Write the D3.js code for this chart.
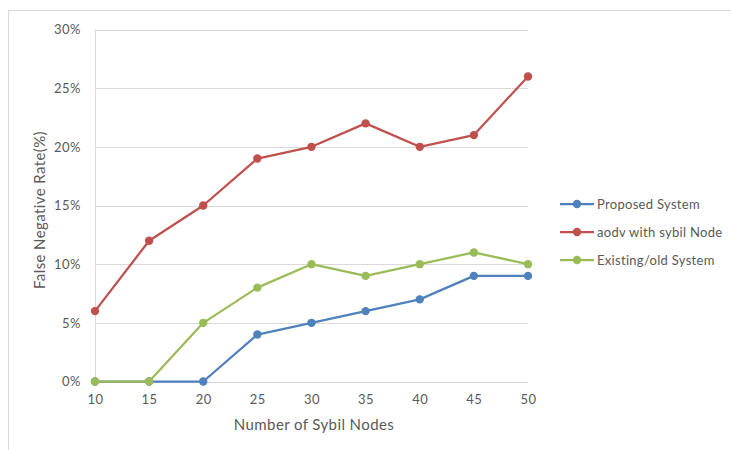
<!DOCTYPE html>
<html>
<head>
<meta charset="utf-8">
<script src="https://cdn.jsdelivr.net/npm/d3@7"></script>
<style>
  html, body { margin: 0; padding: 0; background: #fff; }
  svg { display: block; font-family: Lato, "Open Sans", sans-serif; }
</style>
</head>
<body>
<svg id="chart" width="731" height="450"></svg>
<script>
// Data
const nodes = [10, 15, 20, 25, 30, 35, 40, 45, 50];
const proposed = [0, 0, 0, 4, 5, 6, 7, 9, 9];
const aodvSybil = [6, 12, 15, 19, 20, 22, 20, 21, 26];
const existingOld = [0, 0, 5, 8, 10, 9, 10, 11, 10];
const yTicks = [0, 5, 10, 15, 20, 25, 30];

const series = [
  { name: "Proposed System", values: proposed, color: "#4F81BD" },
  { name: "aodv with sybil Node", values: aodvSybil, color: "#C0504D" },
  { name: "Existing/old System", values: existingOld, color: "#9BBB59" }
];

const svg = d3.select("#chart");
const textColor = "#595959";
const gridColor = "#d9d9d9";

// Outer chart frame
svg.append("rect")
  .attr("x", 8.5).attr("y", 10.5)
  .attr("width", 740).attr("height", 460)
  .attr("fill", "none").attr("stroke", "#d9d9d9").attr("stroke-width", 1);

const plot = { left: 95, right: 528, top: 29.5, bottom: 381.5 };

const x = d3.scalePoint().domain(nodes).range([plot.left, plot.right]);
const y = d3.scaleLinear().domain([0, 30]).range([plot.bottom, plot.top]);

// Horizontal gridlines
svg.append("g")
  .selectAll("line")
  .data(yTicks)
  .join("line")
  .attr("x1", plot.left).attr("x2", plot.right)
  .attr("y1", d => Math.round(y(d)) + 0.5).attr("y2", d => Math.round(y(d)) + 0.5)
  .attr("stroke", gridColor).attr("stroke-width", 1);

// Vertical axis line
svg.append("line")
  .attr("x1", plot.left + 0.5).attr("x2", plot.left + 0.5)
  .attr("y1", plot.top).attr("y2", plot.bottom)
  .attr("stroke", gridColor).attr("stroke-width", 1);

const tickStyle = sel => sel
  .attr("fill", textColor)
  .style("font-size", "13px")
  .style("letter-spacing", "0.5px")
  .style("font-family", "Lato, 'Open Sans', sans-serif");

// Y axis labels
const yAxis = d3.axisLeft(y).tickValues(yTicks).tickSize(0).tickPadding(14)
  .tickFormat(d => d + "%");
const gy = svg.append("g").attr("transform", `translate(${plot.left},0)`).call(yAxis);
gy.select(".domain").remove();
gy.selectAll("text").call(tickStyle);

// X axis labels
const xAxis = d3.axisBottom(x).tickSize(0).tickPadding(13);
const gx = svg.append("g").attr("transform", `translate(0,${plot.bottom})`).call(xAxis);
gx.select(".domain").remove();
gx.selectAll("text").call(tickStyle);

// Axis titles
svg.append("text")
  .attr("x", 314).attr("y", 430)
  .attr("text-anchor", "middle").attr("fill", textColor)
  .style("font-size", "15px").style("letter-spacing", "0.4px")
  .text("Number of Sybil Nodes");

svg.append("text")
  .attr("transform", `translate(45,210) rotate(-90)`)
  .attr("text-anchor", "middle").attr("fill", textColor)
  .style("font-size", "15px").style("letter-spacing", "0.4px")
  .text("False Negative Rate(%)");

// Series lines and markers
const line = d3.line()
  .x((d, i) => x(nodes[i]))
  .y(d => y(d));

series.forEach(s => {
  const g = svg.append("g");
  g.append("path")
    .datum(s.values)
    .attr("d", line)
    .attr("fill", "none")
    .attr("stroke", s.color)
    .attr("stroke-width", 2.25)
    .attr("stroke-linejoin", "round");
  g.selectAll("circle")
    .data(s.values)
    .join("circle")
    .attr("cx", (d, i) => x(nodes[i]))
    .attr("cy", d => y(d))
    .attr("r", 4.2)
    .attr("fill", s.color);
});

// Legend
const legend = svg.append("g");
series.forEach((s, i) => {
  const ly = 204 + i * 28;
  legend.append("line")
    .attr("x1", 560).attr("x2", 594)
    .attr("y1", ly).attr("y2", ly)
    .attr("stroke", s.color).attr("stroke-width", 2.25);
  legend.append("circle")
    .attr("cx", 577).attr("cy", ly).attr("r", 4.2).attr("fill", s.color);
  legend.append("text")
    .attr("x", 597).attr("y", ly).attr("dy", "0.35em")
    .attr("fill", textColor).style("font-size", "13px").style("letter-spacing", "0.3px")
    .text(s.name);
});
</script>
</body>
</html>
